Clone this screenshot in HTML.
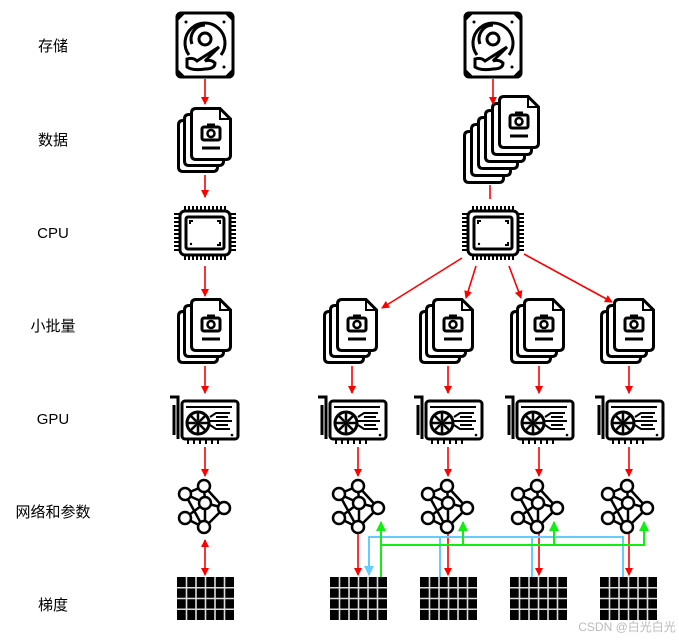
<!DOCTYPE html>
<html><head><meta charset="utf-8"><style>
html,body{margin:0;padding:0;background:#fff;}
svg{display:block}
text{font-family:"Liberation Sans","Noto Sans CJK SC",sans-serif;font-size:15px;fill:#000}
</style></head><body>
<svg width="679" height="640" viewBox="0 0 679 640" xmlns="http://www.w3.org/2000/svg">
<defs>
<marker id="ar" markerWidth="8" markerHeight="8" refX="7" refY="4" orient="auto" markerUnits="userSpaceOnUse"><path d="M0,0 L8,4 L0,8 z" fill="#f00"/></marker>
<marker id="ab" markerWidth="10" markerHeight="10" refX="9" refY="5" orient="auto" markerUnits="userSpaceOnUse"><path d="M0,0 L10,5 L0,10 z" fill="#6cf"/></marker>
<marker id="ag" markerWidth="10" markerHeight="10" refX="9" refY="5" orient="auto" markerUnits="userSpaceOnUse"><path d="M0,0 L10,5 L0,10 z" fill="#1e1"/></marker>
<marker id="ars" markerWidth="8" markerHeight="8" refX="1" refY="4" orient="auto" markerUnits="userSpaceOnUse"><path d="M8,0 L0,4 L8,8 z" fill="#f00"/></marker>
<symbol id="disk" viewBox="0 0 60 68" overflow="visible">
<rect x="2" y="2" width="56" height="64" rx="4" fill="#fff" stroke="#000" stroke-width="3"/>
<path d="M2,8 L8,2 M52,2 L58,8 M2,60 L8,66 M58,60 L52,66" stroke="#000" stroke-width="4"/>
<path d="M14,44 A20,20 0 1 1 46,44" fill="none" stroke="#000" stroke-width="3"/>
<path d="M17,33 A14,14 0 0 1 30,14" fill="none" stroke="#000" stroke-width="3"/>
<circle cx="30" cy="28" r="6" fill="none" stroke="#000" stroke-width="3"/>
<path d="M12,48 L12,56 Q18,60 30,58 Q40,58 40,52 Q36,48 30,50 L44,36 L22,50 Q18,46 12,48z" fill="#fff" stroke="#000" stroke-width="3"/>
<circle cx="11" cy="11" r="1.5"/><circle cx="49" cy="11" r="1.5"/><circle cx="49" cy="56" r="1.5"/>
</symbol>
<symbol id="page" viewBox="0 0 42 54" overflow="visible">
<path d="M6,1.5 L30,1.5 L40.5,12 L40.5,48 Q40.5,52.5 36,52.5 L6,52.5 Q1.5,52.5 1.5,48 L1.5,6 Q1.5,1.5 6,1.5z" fill="#fff" stroke="#000" stroke-width="3"/>
<path d="M30,1.5 L30,12 L40.5,12" fill="none" stroke="#000" stroke-width="2"/>
<rect x="12" y="20" width="18" height="13" rx="2" fill="none" stroke="#000" stroke-width="3"/>
<rect x="17" y="16.5" width="8" height="4" fill="#000"/>
<circle cx="21" cy="26.5" r="3.5" fill="none" stroke="#000" stroke-width="2.5"/>
<path d="M12,41 L30,41" stroke="#000" stroke-width="3"/>
</symbol>
<symbol id="stack3" viewBox="0 0 58 68" overflow="visible">
<use href="#page" x="0" y="12" width="42" height="54"/>
<use href="#page" x="6" y="6" width="42" height="54"/>
<use href="#page" x="13" y="0" width="42" height="54"/>
</symbol>
<symbol id="cpu" viewBox="0 0 62 66" overflow="visible">
<g stroke="#000" stroke-width="2">
<path d="M11,6v6M15,6v6M19,6v6M23,6v6M27,6v6M31,6v6M35,6v6M39,6v6M43,6v6M47,6v6M51,6v6"/>
<path d="M11,54v6M15,54v6M19,54v6M23,54v6M27,54v6M31,54v6M35,54v6M39,54v6M43,54v6M47,54v6M51,54v6"/>
<path d="M0,14h6M0,18h6M0,22h6M0,26h6M0,30h6M0,34h6M0,38h6M0,42h6M0,46h6M0,50h6"/>
<path d="M56,14h6M56,18h6M56,22h6M56,26h6M56,30h6M56,34h6M56,38h6M56,42h6M56,46h6M56,50h6"/>
</g>
<rect x="6" y="11" width="50" height="44" rx="5" fill="#fff" stroke="#000" stroke-width="3"/>
<rect x="12" y="17" width="38" height="32" rx="2" fill="none" stroke="#000" stroke-width="3"/>
<path d="M16,24v-3h3M46,24v-3h-3M46,42v3h-3" fill="none" stroke="#000" stroke-width="2"/>
<circle cx="17" cy="44" r="1.2"/>
</symbol>
<symbol id="gpu" viewBox="0 0 72 52" overflow="visible">
<path d="M2,2 L10,2 L10,44 M6,10v30" fill="none" stroke="#000" stroke-width="3"/>
<rect x="14" y="6" width="56" height="38" rx="3" fill="#fff" stroke="#000" stroke-width="3"/>
<path d="M18,12 L64,12" stroke="#000" stroke-width="2"/>
<circle cx="30" cy="28" r="11" fill="none" stroke="#000" stroke-width="3"/>
<circle cx="30" cy="28" r="3" fill="#000"/>
<path d="M30,18v7M30,31v7M20,28h7M33,28h7M23,21l5,5M32,30l5,5M37,21l-5,5M28,30l-5,5" stroke="#000" stroke-width="2.5"/>
<path d="M42,22 L48,18 L62,18 M42,26 L64,26 M42,30 L48,34 L62,34 M48,22h12M48,30h12" fill="none" stroke="#000" stroke-width="2"/>
<path d="M20,44v5M26,44v5M32,44v5M38,44v5M44,44v5M50,44v5" stroke="#000" stroke-width="2"/>
<circle cx="64" cy="40" r="1.3"/>
</symbol>
<symbol id="net" viewBox="0 0 60 60" overflow="visible">
<g stroke="#000" stroke-width="2.5" fill="none">
<path d="M27,8 L8,16 M27,8 L47,30 M27,8 L28,25 M8,16 L28,25 M8,16 L26,49 M28,25 L47,30 M28,25 L28,49 M47,30 L28,49 M8,40 L28,25 M8,40 L26,49"/>
</g>
<g fill="#fff" stroke="#000" stroke-width="2.5">
<circle cx="27" cy="8" r="6"/><circle cx="8" cy="16" r="6"/><circle cx="28" cy="25" r="6"/>
<circle cx="47" cy="30" r="6"/><circle cx="8" cy="40" r="6"/><circle cx="27" cy="49" r="6"/>
</g>
</symbol>
<symbol id="grid" viewBox="0 0 57 43" overflow="visible">
<rect width="57" height="43" fill="#000"/>
<g stroke="#ddd" stroke-width="1.6">
<path d="M9.5,0v43M19,0v43M28.5,0v43M38,0v43M47.5,0v43M0,10.75h57M0,21.5h57M0,32.25h57"/>
</g>
</symbol>
</defs>
<rect width="679" height="640" fill="#fff"/>
<g text-anchor="middle">
<text x="53" y="51">存储</text><text x="53" y="145">数据</text><text x="53" y="238">CPU</text>
<text x="53" y="331">小批量</text><text x="53" y="424">GPU</text><text x="53" y="517">网络和参数</text><text x="53" y="610">梯度</text>
</g>
<!-- left column -->
<use href="#disk" x="175" y="11" width="60" height="68"/>
<use href="#stack3" x="177" y="107" width="58" height="68"/>
<use href="#cpu" x="174" y="200" width="62" height="66"/>
<use href="#stack3" x="177" y="298" width="58" height="68"/>
<use href="#gpu" x="168" y="395" width="72" height="52"/>
<use href="#net" x="177" y="478" width="60" height="60"/>
<use href="#grid" x="177" y="577" width="57" height="43"/>
<g stroke="#f00" stroke-width="1.6" fill="none">
<path d="M205,79 V104" marker-end="url(#ar)"/>
<path d="M205,175 V197" marker-end="url(#ar)"/>
<path d="M205,266 V296" marker-end="url(#ar)"/>
<path d="M205,366 V393" marker-end="url(#ar)"/>
<path d="M205,447 V476" marker-end="url(#ar)"/>
<path d="M205,540 V575" marker-start="url(#ars)" marker-end="url(#ar)"/>
</g>
<!-- right column -->
<use href="#disk" x="463" y="11" width="60" height="68"/>
<use href="#page" x="463" y="130" width="42" height="54"/>
<use href="#page" x="470" y="123" width="42" height="54"/>
<use href="#page" x="477" y="116" width="42" height="54"/>
<use href="#page" x="484" y="109" width="42" height="54"/>
<use href="#page" x="491" y="102" width="42" height="54"/>
<use href="#page" x="498" y="95" width="42" height="54"/>
<use href="#cpu" x="462" y="200" width="62" height="66"/>
<g stroke="#f00" stroke-width="1.6" fill="none">
<path d="M493,79 V104" marker-end="url(#ar)"/>
<path d="M490,185 V199"/>
<path d="M462,258 L382,308" marker-end="url(#ar)"/>
<path d="M476,266 L466,298" marker-end="url(#ar)"/>
<path d="M509,266 L521,298" marker-end="url(#ar)"/>
<path d="M524,254 L612,302" marker-end="url(#ar)"/>
</g>
<g>
<use href="#stack3" x="323" y="298" width="58" height="68"/>
<use href="#stack3" x="419" y="298" width="58" height="68"/>
<use href="#stack3" x="510" y="298" width="58" height="68"/>
<use href="#stack3" x="600" y="298" width="58" height="68"/>
<use href="#gpu" x="316" y="395" width="72" height="52"/>
<use href="#gpu" x="412" y="395" width="72" height="52"/>
<use href="#gpu" x="503" y="395" width="72" height="52"/>
<use href="#gpu" x="593" y="395" width="72" height="52"/>
<use href="#net" x="331" y="478" width="60" height="60"/>
<use href="#net" x="420" y="478" width="60" height="60"/>
<use href="#net" x="510" y="478" width="60" height="60"/>
<use href="#net" x="600" y="478" width="60" height="60"/>
<use href="#grid" x="330" y="577" width="57" height="43"/>
<use href="#grid" x="420" y="577" width="57" height="43"/>
<use href="#grid" x="510" y="577" width="57" height="43"/>
<use href="#grid" x="600" y="577" width="57" height="43"/>
</g>
<g stroke="#f00" stroke-width="1.6" fill="none">
<path d="M352,366 V393" marker-end="url(#ar)"/><path d="M448,366 V393" marker-end="url(#ar)"/>
<path d="M539,366 V393" marker-end="url(#ar)"/><path d="M629,366 V393" marker-end="url(#ar)"/>
<path d="M358,447 V476" marker-end="url(#ar)"/><path d="M448,447 V476" marker-end="url(#ar)"/>
<path d="M539,447 V476" marker-end="url(#ar)"/><path d="M629,447 V476" marker-end="url(#ar)"/>
<path d="M358,534 V575" marker-end="url(#ar)"/><path d="M448,534 V575" marker-end="url(#ar)"/>
<path d="M539,534 V575" marker-end="url(#ar)"/><path d="M629,534 V575" marker-end="url(#ar)"/>
</g>
<g stroke="#6cf" stroke-width="2" fill="none">
<path d="M623,577 V537 H369 V575" marker-end="url(#ab)"/>
<path d="M440,577 V537 M532,577 V537"/>
</g>
<g stroke="#1e1" stroke-width="2" fill="none">
<path d="M381,577 V522" marker-end="url(#ag)"/>
<path d="M381,545 H644 V522" marker-end="url(#ag)"/>
<path d="M463,545 V522" marker-end="url(#ag)"/>
<path d="M554,545 V522" marker-end="url(#ag)"/>
</g>
<text x="627" y="631" text-anchor="middle" style="font-size:12px;fill:#bbb">CSDN @白光白光</text>
</svg>
</body></html>
